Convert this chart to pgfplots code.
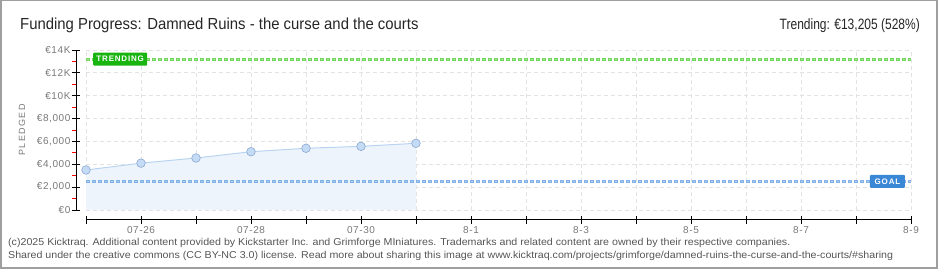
\documentclass[border=0pt]{standalone}
\usepackage{fontspec}
\setmainfont{Liberation Sans}
\newfontfamily\titlefont[FakeStretch=0.93]{Liberation Sans}
\newfontfamily\trendfont[FakeStretch=0.8]{Liberation Sans}
\newfontfamily\footfont[FakeStretch=1.065]{Liberation Sans}
\newfontfamily\spacedfont[LetterSpace=15]{Liberation Sans}
\newfontfamily\boxfont[LetterSpace=10]{Liberation Sans}
\newfontfamily\tickfont[LetterSpace=6]{Liberation Sans}
\usepackage{pgfplots}
\pgfplotsset{compat=1.18}
\definecolor{gridc}{RGB}{226,226,226}
\definecolor{areac}{RGB}{238,244,252}
\definecolor{linec}{RGB}{185,212,240}
\definecolor{markfill}{RGB}{196,219,246}
\definecolor{markdraw}{RGB}{140,168,208}
\definecolor{trendc}{RGB}{112,214,92}
\definecolor{trendin}{RGB}{160,230,140}
\definecolor{trendbox}{RGB}{24,180,16}
\definecolor{goalc}{RGB}{128,178,232}
\definecolor{goalin}{RGB}{170,205,242}
\definecolor{goalbox}{RGB}{58,135,214}
\definecolor{labc}{RGB}{120,120,120}
\definecolor{footc}{RGB}{85,85,85}
\begin{document}
\begin{tikzpicture}[x=1pt,y=1pt]
\useasboundingbox (0,0) rectangle (940,270);
\draw[gray!75, line width=1.5pt] (0.75,2) rectangle (937,269.25);
% main plot area
\begin{axis}[at={(86pt,60pt)}, anchor=south west, width=825pt, height=160pt, scale only axis,
  xmin=0, xmax=15, ymin=0, ymax=14000, clip=false,
  axis line style={draw=none}, major tick length=0pt,
  xtick={0,...,15}, ytick={0,2000,...,14000}, xticklabels={}, yticklabels={},
  scaled ticks=false,
  grid=major, grid style={gridc, dash pattern=on 4pt off 3pt, line width=0.8pt}]
\addplot[draw=none, fill=areac, forget plot] coordinates {(0,3500)(1,4100)(2,4550)(3,5100)(4,5400)(5,5570)(6,5835)} \closedcycle;
\addplot[linec, line width=1pt, mark=*, mark size=4.3pt, mark options={fill=markfill, draw=markdraw, line width=0.6pt}] coordinates {(0,3500)(1,4100)(2,4550)(3,5100)(4,5400)(5,5570)(6,5835)};
\addplot[trendc, line width=3pt, dash pattern=on 4pt off 2pt] coordinates {(0,13205)(15,13205)};
\addplot[trendin, line width=1pt, dash pattern=on 2pt off 4pt, dash phase=-1pt] coordinates {(0,13205)(15,13205)};
\addplot[goalc, line width=3pt, dash pattern=on 4pt off 2pt] coordinates {(0,2500)(15,2500)};
\addplot[goalin, line width=1pt, dash pattern=on 2pt off 4pt, dash phase=-1pt] coordinates {(0,2500)(15,2500)};
\node[fill=trendbox, text=white, font=\boxfont\bfseries\fontsize{8}{8}\selectfont, rounded corners=1pt, minimum width=54pt, minimum height=13pt, inner sep=0pt, anchor=west] at (axis cs:0.127,13205) {TRENDING};
\node[fill=goalbox, text=white, font=\boxfont\bfseries\fontsize{8}{8}\selectfont, rounded corners=1pt, minimum width=35pt, minimum height=13pt, inner sep=0pt, anchor=west] at (axis cs:14.25,2500) {GOAL};
\end{axis}
% y axis (offset)
\begin{axis}[at={(76pt,60pt)}, anchor=south west, width=825pt, height=160pt, scale only axis,
  xmin=0, xmax=15, ymin=0, ymax=14000,
  axis x line=none, axis y line=left, axis line style={-, black, line width=1pt},
  ytick={0,2000,...,14000},
  yticklabels={€0,{€2,000},{€4,000},{€6,000},{€8,000},€10K,€12K,€14K},
  minor ytick={1000,3000,...,13000},
  scaled ticks=false,
  tick align=center, major tick length=8pt, minor tick length=4pt,
  major tick style={black, line width=0.9pt},
  minor tick style={red, line width=0.9pt, xshift=-2pt},
  yticklabel style={font=\tickfont\fontsize{10}{10}\selectfont, text=labc, anchor=east, xshift=2pt}]
\end{axis}
% x axis (offset)
\begin{axis}[at={(86pt,50pt)}, anchor=south west, width=825pt, height=160pt, scale only axis,
  xmin=0, xmax=15, ymin=0, ymax=1,
  axis y line=none, axis x line=bottom, axis line style={-, black, line width=1pt},
  xtick={0,...,15},
  xticklabels={,07-26,,07-28,,07-30,,8-1,,8-3,,8-5,,8-7,,8-9},
  tick align=center, major tick length=8pt,
  major tick style={black, line width=0.9pt},
  xticklabel style={font=\tickfont\fontsize{10}{10}\selectfont, text=labc, anchor=north, yshift=1.5pt}]
\end{axis}
\node[rotate=90, font=\spacedfont\fontsize{9}{9}\selectfont, text=labc] at (22,140) {PLEDGED};
\node[anchor=base west, font=\titlefont\fontsize{16}{16}\selectfont, text=black!85, inner sep=0pt] at (20,240) {Funding Progress: Damned Ruins - the curse and the courts};
\node[anchor=base east, font=\trendfont\fontsize{15}{15}\selectfont, text=black!85, inner sep=0pt] at (920,240) {Trending: €13,205 (528\%)};
\node[anchor=base west, font=\footfont\fontsize{10}{10}\selectfont, text=footc, inner sep=0pt] at (8,24) {(c)2025 Kicktraq. Additional content provided by Kickstarter Inc. and Grimforge MIniatures. Trademarks and related content are owned by their respective companies.};
\node[anchor=base west, font=\footfont\fontsize{10}{10}\selectfont, text=footc, inner sep=0pt] at (8,11) {Shared under the creative commons (CC BY-NC 3.0) license. Read more about sharing this image at www.kicktraq.com/projects/grimforge/damned-ruins-the-curse-and-the-courts/\#sharing};
\end{tikzpicture}
\end{document}
